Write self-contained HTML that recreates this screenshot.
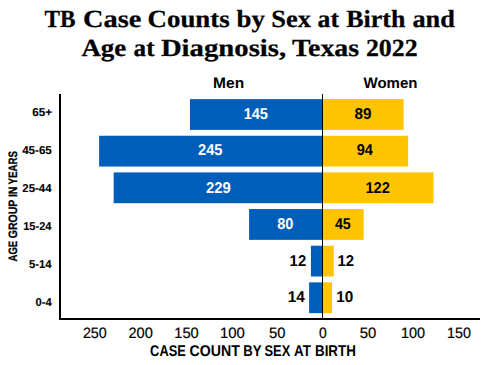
<!DOCTYPE html>
<html><head><meta charset="utf-8"><title>TB Case Counts by Sex at Birth and Age at Diagnosis, Texas 2022</title><style>
html,body{margin:0;padding:0;background:#fff;width:500px;height:365px;overflow:hidden}
svg{display:block}
</style></head><body>
<svg width="500" height="365" viewBox="0 0 500 365">
<rect width="500" height="365" fill="#fff"/>
<rect x="190.01" y="99.10" width="132.49" height="30.8" fill="#005ebb"/>
<rect x="322.5" y="99.10" width="81.08" height="30.8" fill="#ffc400"/>
<rect x="99.10" y="135.75" width="223.40" height="30.8" fill="#005ebb"/>
<rect x="322.5" y="135.75" width="85.61" height="30.8" fill="#ffc400"/>
<rect x="113.65" y="172.40" width="208.85" height="30.8" fill="#005ebb"/>
<rect x="322.5" y="172.40" width="111.00" height="30.8" fill="#ffc400"/>
<rect x="249.10" y="209.05" width="73.40" height="30.8" fill="#005ebb"/>
<rect x="322.5" y="209.05" width="41.18" height="30.8" fill="#ffc400"/>
<rect x="310.92" y="245.70" width="11.58" height="30.8" fill="#005ebb"/>
<rect x="322.5" y="245.70" width="11.26" height="30.8" fill="#ffc400"/>
<rect x="309.10" y="282.35" width="13.40" height="30.8" fill="#005ebb"/>
<rect x="322.5" y="282.35" width="9.45" height="30.8" fill="#ffc400"/>
<rect x="59" y="94" width="2" height="226" fill="#000"/>
<rect x="59" y="318" width="421" height="2" fill="#000"/>
<rect x="322" y="94" width="1" height="225" fill="#000"/>
<text x="44.61" y="27.00" font-size="24.60" font-family="Liberation Serif" font-weight="bold" fill="#000" textLength="30.96" lengthAdjust="spacingAndGlyphs" text-rendering="geometricPrecision" stroke="#000" stroke-width="0.25">TB</text>
<text x="83.00" y="27.00" font-size="24.60" font-family="Liberation Serif" font-weight="bold" fill="#000" textLength="58.33" lengthAdjust="spacingAndGlyphs" text-rendering="geometricPrecision" stroke="#000" stroke-width="0.25">Case</text>
<text x="147.57" y="27.00" font-size="24.60" font-family="Liberation Serif" font-weight="bold" fill="#000" textLength="82.15" lengthAdjust="spacingAndGlyphs" text-rendering="geometricPrecision" stroke="#000" stroke-width="0.25">Counts</text>
<text x="236.52" y="27.00" font-size="24.60" font-family="Liberation Serif" font-weight="bold" fill="#000" textLength="28.36" lengthAdjust="spacingAndGlyphs" text-rendering="geometricPrecision" stroke="#000" stroke-width="0.25">by</text>
<text x="271.31" y="27.00" font-size="24.60" font-family="Liberation Serif" font-weight="bold" fill="#000" textLength="39.66" lengthAdjust="spacingAndGlyphs" text-rendering="geometricPrecision" stroke="#000" stroke-width="0.25">Sex</text>
<text x="317.55" y="27.00" font-size="24.60" font-family="Liberation Serif" font-weight="bold" fill="#000" textLength="21.48" lengthAdjust="spacingAndGlyphs" text-rendering="geometricPrecision" stroke="#000" stroke-width="0.25">at</text>
<text x="346.22" y="27.00" font-size="24.60" font-family="Liberation Serif" font-weight="bold" fill="#000" textLength="59.16" lengthAdjust="spacingAndGlyphs" text-rendering="geometricPrecision" stroke="#000" stroke-width="0.25">Birth</text>
<text x="412.41" y="27.00" font-size="24.60" font-family="Liberation Serif" font-weight="bold" fill="#000" textLength="42.49" lengthAdjust="spacingAndGlyphs" text-rendering="geometricPrecision" stroke="#000" stroke-width="0.25">and</text>
<text x="81.44" y="56.00" font-size="24.60" font-family="Liberation Serif" font-weight="bold" fill="#000" textLength="44.84" lengthAdjust="spacingAndGlyphs" text-rendering="geometricPrecision" stroke="#000" stroke-width="0.25">Age</text>
<text x="133.58" y="56.00" font-size="24.60" font-family="Liberation Serif" font-weight="bold" fill="#000" textLength="20.97" lengthAdjust="spacingAndGlyphs" text-rendering="geometricPrecision" stroke="#000" stroke-width="0.25">at</text>
<text x="160.90" y="56.00" font-size="24.60" font-family="Liberation Serif" font-weight="bold" fill="#000" textLength="125.25" lengthAdjust="spacingAndGlyphs" text-rendering="geometricPrecision" stroke="#000" stroke-width="0.25">Diagnosis,</text>
<text x="292.04" y="56.00" font-size="24.60" font-family="Liberation Serif" font-weight="bold" fill="#000" textLength="67.12" lengthAdjust="spacingAndGlyphs" text-rendering="geometricPrecision" stroke="#000" stroke-width="0.25">Texas</text>
<text x="365.90" y="56.00" font-size="24.60" font-family="Liberation Serif" font-weight="bold" fill="#000" textLength="51.80" lengthAdjust="spacingAndGlyphs" text-rendering="geometricPrecision" stroke="#000" stroke-width="0.25">2022</text>
<text x="213.05" y="88.00" font-size="15.10" font-family="Liberation Sans" font-weight="bold" fill="#000" textLength="31.07" lengthAdjust="spacingAndGlyphs" text-rendering="geometricPrecision">Men</text>
<text x="363.51" y="88.00" font-size="15.10" font-family="Liberation Sans" font-weight="bold" fill="#000" textLength="53.96" lengthAdjust="spacingAndGlyphs" text-rendering="geometricPrecision">Women</text>
<text x="243.65" y="119.00" font-size="15.60" font-family="Liberation Sans" font-weight="bold" fill="#fff" textLength="24.30" lengthAdjust="spacingAndGlyphs" text-rendering="geometricPrecision">145</text>
<text x="354.45" y="119.00" font-size="15.60" font-family="Liberation Sans" font-weight="bold" fill="#000" textLength="16.96" lengthAdjust="spacingAndGlyphs" text-rendering="geometricPrecision">89</text>
<text x="198.03" y="155.00" font-size="15.60" font-family="Liberation Sans" font-weight="bold" fill="#fff" textLength="24.49" lengthAdjust="spacingAndGlyphs" text-rendering="geometricPrecision">245</text>
<text x="356.76" y="155.00" font-size="15.60" font-family="Liberation Sans" font-weight="bold" fill="#000" textLength="16.17" lengthAdjust="spacingAndGlyphs" text-rendering="geometricPrecision">94</text>
<text x="205.88" y="193.00" font-size="15.60" font-family="Liberation Sans" font-weight="bold" fill="#fff" textLength="24.78" lengthAdjust="spacingAndGlyphs" text-rendering="geometricPrecision">229</text>
<text x="365.41" y="193.00" font-size="15.60" font-family="Liberation Sans" font-weight="bold" fill="#000" textLength="24.53" lengthAdjust="spacingAndGlyphs" text-rendering="geometricPrecision">122</text>
<text x="277.19" y="229.00" font-size="15.60" font-family="Liberation Sans" font-weight="bold" fill="#fff" textLength="16.11" lengthAdjust="spacingAndGlyphs" text-rendering="geometricPrecision">80</text>
<text x="334.94" y="229.00" font-size="15.60" font-family="Liberation Sans" font-weight="bold" fill="#000" textLength="15.82" lengthAdjust="spacingAndGlyphs" text-rendering="geometricPrecision">45</text>
<text x="289.61" y="266.00" font-size="15.60" font-family="Liberation Sans" font-weight="bold" fill="#000" textLength="16.56" lengthAdjust="spacingAndGlyphs" text-rendering="geometricPrecision">12</text>
<text x="337.45" y="266.00" font-size="15.60" font-family="Liberation Sans" font-weight="bold" fill="#000" textLength="16.61" lengthAdjust="spacingAndGlyphs" text-rendering="geometricPrecision">12</text>
<text x="287.63" y="302.00" font-size="15.60" font-family="Liberation Sans" font-weight="bold" fill="#000" textLength="17.16" lengthAdjust="spacingAndGlyphs" text-rendering="geometricPrecision">14</text>
<text x="336.18" y="302.00" font-size="15.60" font-family="Liberation Sans" font-weight="bold" fill="#000" textLength="16.99" lengthAdjust="spacingAndGlyphs" text-rendering="geometricPrecision">10</text>
<text x="32.17" y="116.00" font-size="11.40" font-family="Liberation Sans" font-weight="bold" fill="#000" textLength="19.80" lengthAdjust="spacingAndGlyphs" text-rendering="geometricPrecision" stroke="#000" stroke-width="0.1">65+</text>
<text x="22.18" y="154.00" font-size="11.40" font-family="Liberation Sans" font-weight="bold" fill="#000" textLength="29.65" lengthAdjust="spacingAndGlyphs" text-rendering="geometricPrecision" stroke="#000" stroke-width="0.1">45-65</text>
<text x="22.29" y="192.00" font-size="11.40" font-family="Liberation Sans" font-weight="bold" fill="#000" textLength="29.23" lengthAdjust="spacingAndGlyphs" text-rendering="geometricPrecision" stroke="#000" stroke-width="0.1">25-44</text>
<text x="23.21" y="230.00" font-size="11.40" font-family="Liberation Sans" font-weight="bold" fill="#000" textLength="28.31" lengthAdjust="spacingAndGlyphs" text-rendering="geometricPrecision" stroke="#000" stroke-width="0.1">15-24</text>
<text x="28.93" y="268.00" font-size="11.40" font-family="Liberation Sans" font-weight="bold" fill="#000" textLength="22.52" lengthAdjust="spacingAndGlyphs" text-rendering="geometricPrecision" stroke="#000" stroke-width="0.1">5-14</text>
<text x="35.52" y="306.00" font-size="11.40" font-family="Liberation Sans" font-weight="bold" fill="#000" textLength="16.14" lengthAdjust="spacingAndGlyphs" text-rendering="geometricPrecision" stroke="#000" stroke-width="0.1">0-4</text>
<text x="82.88" y="338.00" font-size="15.00" font-family="Liberation Sans" font-weight="normal" fill="#000" textLength="23.95" lengthAdjust="spacingAndGlyphs" text-rendering="geometricPrecision" stroke="#000" stroke-width="0.2">250</text>
<text x="128.48" y="338.00" font-size="15.00" font-family="Liberation Sans" font-weight="normal" fill="#000" textLength="24.40" lengthAdjust="spacingAndGlyphs" text-rendering="geometricPrecision" stroke="#000" stroke-width="0.2">200</text>
<text x="174.23" y="338.00" font-size="15.00" font-family="Liberation Sans" font-weight="normal" fill="#000" textLength="24.49" lengthAdjust="spacingAndGlyphs" text-rendering="geometricPrecision" stroke="#000" stroke-width="0.2">150</text>
<text x="219.89" y="338.00" font-size="15.00" font-family="Liberation Sans" font-weight="normal" fill="#000" textLength="24.89" lengthAdjust="spacingAndGlyphs" text-rendering="geometricPrecision" stroke="#000" stroke-width="0.2">100</text>
<text x="268.94" y="338.00" font-size="15.00" font-family="Liberation Sans" font-weight="normal" fill="#000" textLength="16.41" lengthAdjust="spacingAndGlyphs" text-rendering="geometricPrecision" stroke="#000" stroke-width="0.2">50</text>
<text x="318.93" y="338.00" font-size="15.00" font-family="Liberation Sans" font-weight="normal" fill="#000" textLength="7.75" lengthAdjust="spacingAndGlyphs" text-rendering="geometricPrecision" stroke="#000" stroke-width="0.2">0</text>
<text x="359.75" y="338.00" font-size="15.00" font-family="Liberation Sans" font-weight="normal" fill="#000" textLength="16.55" lengthAdjust="spacingAndGlyphs" text-rendering="geometricPrecision" stroke="#000" stroke-width="0.2">50</text>
<text x="400.98" y="338.00" font-size="15.00" font-family="Liberation Sans" font-weight="normal" fill="#000" textLength="24.14" lengthAdjust="spacingAndGlyphs" text-rendering="geometricPrecision" stroke="#000" stroke-width="0.2">100</text>
<text x="447.00" y="338.00" font-size="15.00" font-family="Liberation Sans" font-weight="normal" fill="#000" textLength="23.87" lengthAdjust="spacingAndGlyphs" text-rendering="geometricPrecision" stroke="#000" stroke-width="0.2">150</text>
<text x="150.12" y="356.00" font-size="15.50" font-family="Liberation Sans" font-weight="bold" fill="#000" textLength="35.67" lengthAdjust="spacingAndGlyphs" text-rendering="geometricPrecision">CASE</text>
<text x="189.57" y="356.00" font-size="15.50" font-family="Liberation Sans" font-weight="bold" fill="#000" textLength="50.28" lengthAdjust="spacingAndGlyphs" text-rendering="geometricPrecision">COUNT</text>
<text x="243.33" y="356.00" font-size="15.50" font-family="Liberation Sans" font-weight="bold" fill="#000" textLength="18.24" lengthAdjust="spacingAndGlyphs" text-rendering="geometricPrecision">BY</text>
<text x="264.49" y="356.00" font-size="15.50" font-family="Liberation Sans" font-weight="bold" fill="#000" textLength="25.73" lengthAdjust="spacingAndGlyphs" text-rendering="geometricPrecision">SEX</text>
<text x="294.10" y="356.00" font-size="15.50" font-family="Liberation Sans" font-weight="bold" fill="#000" textLength="16.86" lengthAdjust="spacingAndGlyphs" text-rendering="geometricPrecision">AT</text>
<text x="314.98" y="356.00" font-size="15.50" font-family="Liberation Sans" font-weight="bold" fill="#000" textLength="40.89" lengthAdjust="spacingAndGlyphs" text-rendering="geometricPrecision">BIRTH</text>
<g transform="translate(17,411.9) rotate(-90)"><text x="150.42" y="0.00" font-size="12.20" font-family="Liberation Sans" font-weight="bold" fill="#000" textLength="20.74" lengthAdjust="spacingAndGlyphs" text-rendering="geometricPrecision" stroke="#000" stroke-width="0.3">AGE</text><text x="173.62" y="0.00" font-size="12.20" font-family="Liberation Sans" font-weight="bold" fill="#000" textLength="38.58" lengthAdjust="spacingAndGlyphs" text-rendering="geometricPrecision" stroke="#000" stroke-width="0.3">GROUP</text><text x="214.83" y="0.00" font-size="12.20" font-family="Liberation Sans" font-weight="bold" fill="#000" textLength="10.55" lengthAdjust="spacingAndGlyphs" text-rendering="geometricPrecision" stroke="#000" stroke-width="0.3">IN</text><text x="227.36" y="0.00" font-size="12.20" font-family="Liberation Sans" font-weight="bold" fill="#000" textLength="33.57" lengthAdjust="spacingAndGlyphs" text-rendering="geometricPrecision" stroke="#000" stroke-width="0.3">YEARS</text></g>
</svg>
</body></html>
